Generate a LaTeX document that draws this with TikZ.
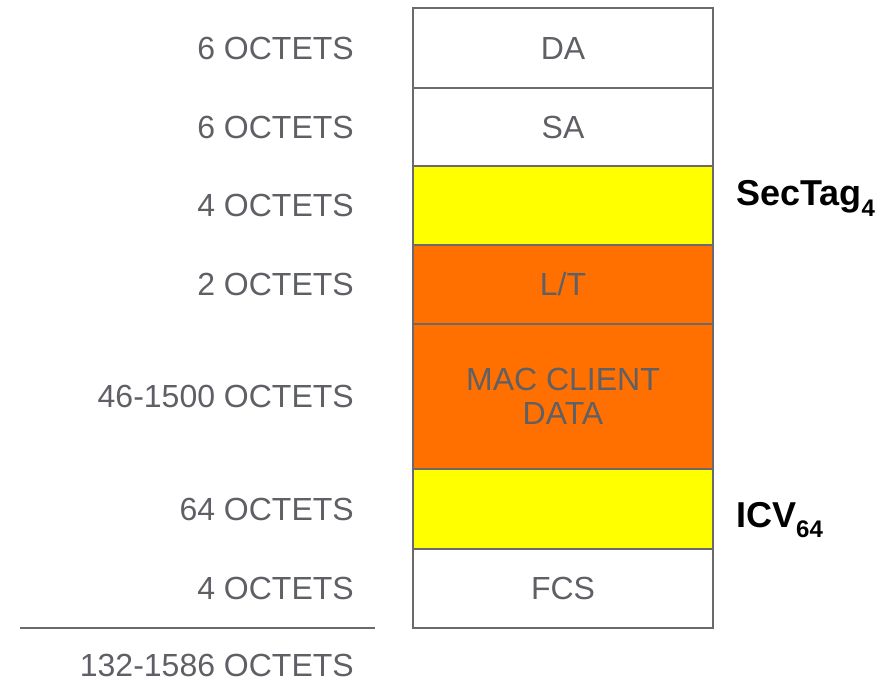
\documentclass[tikz,border=0pt]{standalone}
\usepackage{fontspec}
\setmainfont{Liberation Sans}
\usetikzlibrary{positioning}

\definecolor{txtgray}{HTML}{5F6065}
\definecolor{linegray}{HTML}{6A6A6E}
\definecolor{macorange}{HTML}{FF7000}
\definecolor{secyellow}{HTML}{FFFF00}

\newcommand{\tagsub}[1]{\raisebox{-0.3em}{\fontsize{24}{24}\selectfont #1}}

\begin{document}
\begin{tikzpicture}[x=1pt,y=-1pt,
	field/.style={rectangle,draw=linegray,line width=2pt,outer sep=0pt,
		minimum width=300pt,inner sep=0pt,align=center,text=txtgray,
		font=\fontsize{32}{34}\selectfont},
	size/.style={anchor=east,text=txtgray,inner sep=0pt,font=\fontsize{32}{34}\selectfont},
	tag/.style={anchor=base west,inner sep=0pt,font=\bfseries\fontsize{36}{36}\selectfont}]
	
	\useasboundingbox (0,0) rectangle (887,681);
	
	% frame fields
	\node[field,minimum height=80pt,anchor=north] (da) at (563,8) {DA};
	\node[field,minimum height=78pt,below=0pt of da] (sa) {SA};
	\node[field,minimum height=79pt,below=0pt of sa,fill=secyellow] (sectag) {};
	\node[field,minimum height=79pt,below=0pt of sectag,fill=macorange] (lt) {L/T};
	\node[field,minimum height=145pt,below=0pt of lt,fill=macorange] (data) {MAC CLIENT\\DATA};
	\node[field,minimum height=80pt,below=0pt of data,fill=secyellow] (icv) {};
	\node[field,minimum height=79pt,below=0pt of icv] (fcs) {FCS};
	
	% sizes
	\node[size,left=59pt of da] (s1) {6 OCTETS};
	\node[size,left=59pt of sa] (s2) {6 OCTETS};
	\node[size,left=59pt of sectag] (s3) {4 OCTETS};
	\node[size,left=59pt of lt] (s4) {2 OCTETS};
	\node[size,left=59pt of data] (s5) {46-1500 OCTETS};
	\node[size,left=59pt of icv] (s6) {64 OCTETS};
	\node[size,left=59pt of fcs] (s7) {4 OCTETS};
	
	\draw[linegray,line width=2pt] (20,628) -- (375,628);
	\node[size] (total) at (354,665) {132-1586 OCTETS};
	
	% tags
	\node[tag] (sectaglbl) at ([xshift=23pt]sectag.east) {SecTag\tagsub{4}};
	\node[tag] (icvlbl) at ([xshift=23pt,yshift=-18pt]icv.east) {ICV\tagsub{64}};
\end{tikzpicture}
\end{document}
